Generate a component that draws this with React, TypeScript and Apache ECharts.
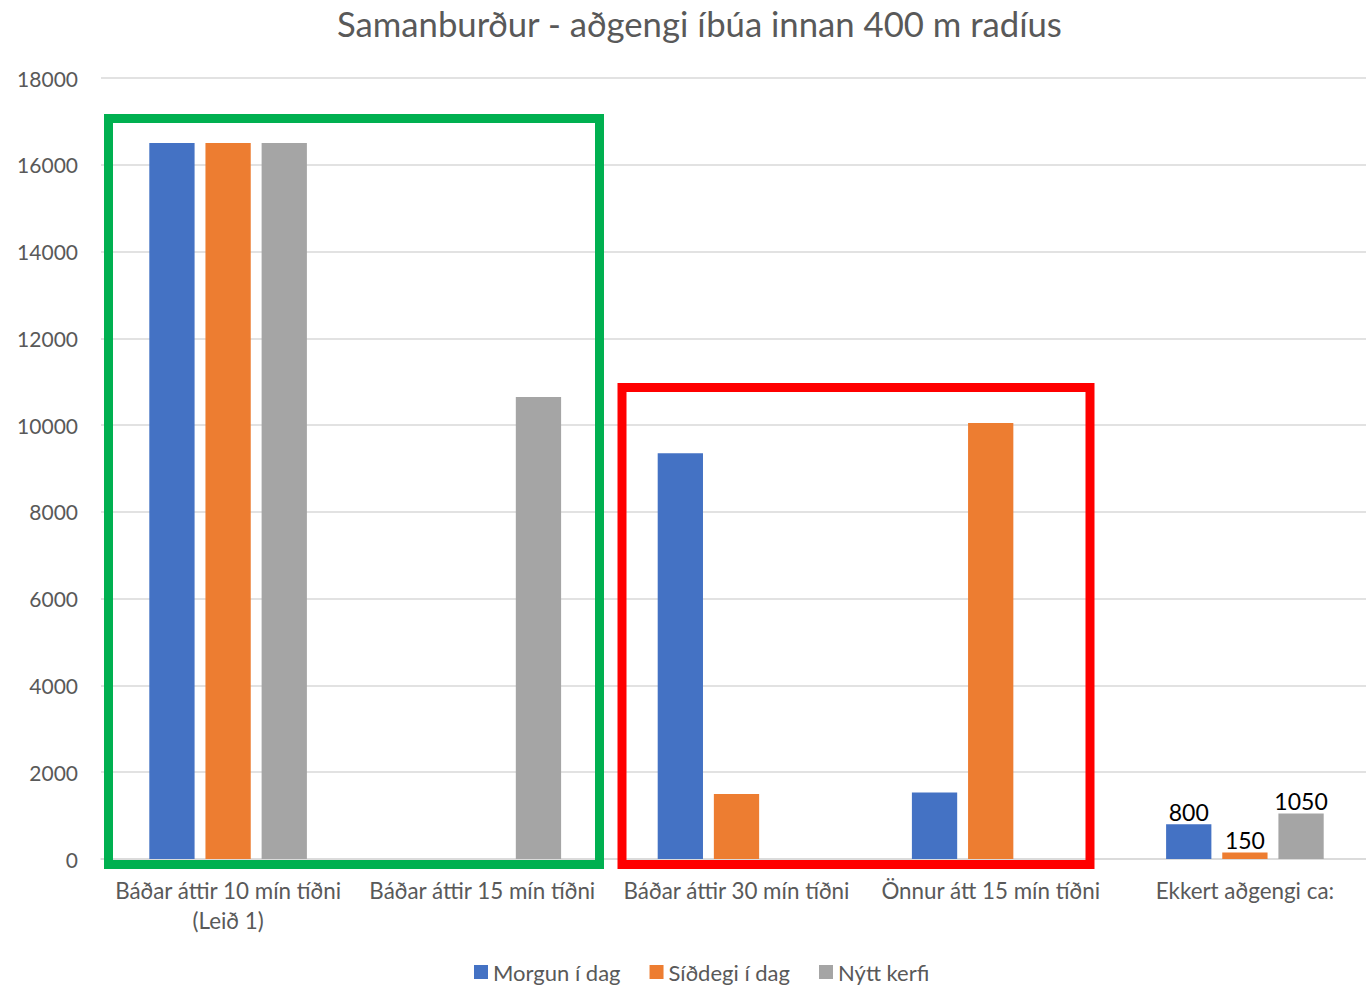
import React, { useEffect, useRef } from "react";
import * as echarts from "echarts";

const title = "Samanburður - aðgengi íbúa innan 400 m radíus";
const categories = [
  "Báðar áttir 10 mín tíðni\n(Leið 1)",
  "Báðar áttir 15 mín tíðni",
  "Báðar áttir 30 mín tíðni",
  "Önnur átt 15 mín tíðni",
  "Ekkert aðgengi ca:",
];
const seriesNames = ["Morgun í dag", "Síðdegi í dag", "Nýtt kerfi"];
const morgun = [16500, 0, 9350, 1530, 800];
const siddegi = [16500, 0, 1500, 10050, 150];
const nyttKerfi = [16500, 10650, 0, 0, 1050];
const colors = ["#4472C4", "#ED7D31", "#A5A5A5"];
const labelledIndex = 4;

const FONT = "Lato";
const TEXT = "#595959";

export default function App() {
  const ref = useRef<HTMLDivElement>(null);
  useEffect(() => {
    const chart = echarts.init(ref.current!, null, { renderer: "svg" });
    const mk = (arr: number[]) =>
      arr.map((v, i) =>
        i === labelledIndex
          ? {
              value: v,
              label: {
                show: true,
                position: "top",
                distance: 1,
                color: "#000",
                fontSize: 23,
                fontFamily: FONT,
              },
            }
          : v
      );
    const data = [morgun, siddegi, nyttKerfi];
    chart.setOption({
      animation: false,
      color: colors,
      title: {
        text: title,
        left: 332,
        top: 1,
        textStyle: { color: TEXT, fontSize: 34.7, fontWeight: "normal", fontFamily: FONT },
      },
      legend: {
        bottom: 0,
        left: 469,
        itemWidth: 14,
        itemHeight: 14,
        itemGap: 29,
        icon: "rect",
        textStyle: { color: TEXT, fontSize: 22, fontFamily: FONT },
        data: seriesNames,
      },
      grid: {
        left: 101,
        width: 1271,
        top: 78,
        bottom: 129,
        outerBoundsMode: "none",
        containLabel: false,
      },
      xAxis: {
        type: "category",
        data: categories,
        axisLine: { show: true, lineStyle: { color: "#D9D9D9", width: 1.5 } },
        axisTick: { show: false },
        axisLabel: {
          color: TEXT,
          fontSize: 22.4,
          fontFamily: FONT,
          margin: 16,
          lineHeight: 30,
          interval: 0,
        },
      },
      yAxis: {
        type: "value",
        min: 0,
        max: 18000,
        interval: 2000,
        axisLine: { show: false },
        axisTick: { show: false },
        splitLine: { lineStyle: { color: "#D9D9D9", width: 1.5 } },
        axisLabel: {
          color: TEXT,
          fontSize: 21,
          fontFamily: FONT,
          margin: 23,
          formatter: (v: number) => String(v),
        },
      },
      series: seriesNames.map((n, k) => ({
        name: n,
        type: "bar",
        data: mk(data[k]),
        barGap: "24%",
        barCategoryGap: "38%",
        itemStyle: { color: colors[k] },
      })),
      graphic: [
        {
          type: "rect",
          shape: { x: 108.5, y: 118.5, width: 491, height: 746 },
          style: { fill: "none", stroke: "#00B050", lineWidth: 9 },
          z: 100,
        },
        {
          type: "rect",
          shape: { x: 622, y: 387.5, width: 468, height: 477 },
          style: { fill: "none", stroke: "#FF0000", lineWidth: 9 },
          z: 100,
        },
      ],
    });
    return () => chart.dispose();
  }, []);
  return (
    <div
      ref={ref}
      style={{ position: "absolute", left: 0, top: 0, width: 1366, height: 988 }}
    />
  );
}
